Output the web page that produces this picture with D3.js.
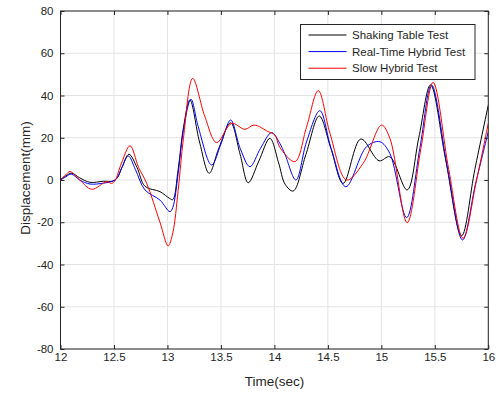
<!DOCTYPE html>
<html>
<head>
<meta charset="utf-8">
<script src="https://cdn.jsdelivr.net/npm/d3@7"></script>
<style>
  html, body { margin: 0; padding: 0; background: #fff; }
  svg { display: block; font-family: "Liberation Sans", Arial, Helvetica, sans-serif; }
</style>
</head>
<body>
<svg id="chart" width="498" height="393"></svg>
<script>
// ---- data ----
const xTicks = [12, 12.5, 13, 13.5, 14, 14.5, 15, 15.5, 16];
const yTicks = [-80, -60, -40, -20, 0, 20, 40, 60, 80];
const xTickLabels = ["12", "12.5", "13", "13.5", "14", "14.5", "15", "15.5", "16"];
const yTickLabels = ["-80", "-60", "-40", "-20", "0", "20", "40", "60", "80"];
const seriesNames = ["Shaking Table Test", "Real-Time Hybrid Test", "Slow Hybrid Test"];
const seriesColors = ["#000000", "#0000ff", "#ff0000"];

const shakingT = [12.00, 12.05, 12.105, 12.18, 12.276, 12.40, 12.49, 12.53, 12.575, 12.64, 12.715, 12.79, 12.93, 13.02, 13.05, 13.10, 13.15, 13.21, 13.30, 13.39, 13.48, 13.59, 13.68, 13.755, 13.855, 13.958, 14.04, 14.10, 14.176, 14.294, 14.419, 14.528, 14.643, 14.808, 14.979, 15.079, 15.241, 15.35, 15.46, 15.60, 15.75, 15.874, 16.0];
const shakingV = [0.3, 2.0, 3.2, 1.0, -1.1, -0.6, -0.5, 1, 6, 12.2, 6, -3.0, -5.5, -8.7, -9.3, 5, 25, 37.9, 18, 3.2, 15, 27.1, 12, -1.3, 9, 19.7, 8, -2, -5.2, 12, 30.3, 15, -1.6, 19.4, 9.1, 11, -4.7, 20, 45, 10, -26.4, 5, 35.5];

const rthtT = [12.00, 12.05, 12.10, 12.18, 12.276, 12.40, 12.49, 12.53, 12.575, 12.634, 12.70, 12.79, 12.93, 13.023, 13.05, 13.10, 13.15, 13.22, 13.288, 13.413, 13.50, 13.591, 13.68, 13.771, 13.87, 13.974, 14.05, 14.10, 14.201, 14.30, 14.425, 14.53, 14.668, 14.862, 14.986, 15.079, 15.236, 15.36, 15.469, 15.62, 15.759, 15.88, 16.0];
const rthtV = [0, 1.5, 2.8, 0, -1.9, -1.5, -0.5, 1, 6, 11.4, 5, -4.7, -9.5, -15, -13, 3, 24, 38.2, 25.2, 7.1, 17, 28.4, 15, 6.3, 15, 22.4, 17.4, 12, 0, 18, 32.8, 15, -3.2, 15.8, 18.1, 12.6, -17.8, 15, 45, 5, -28.4, -2, 22.9];

const slowT = [12.00, 12.05, 12.089, 12.18, 12.292, 12.432, 12.479, 12.51, 12.57, 12.65, 12.73, 12.806, 12.93, 13.007, 13.05, 13.10, 13.15, 13.236, 13.35, 13.46, 13.60, 13.724, 13.811, 13.942, 14.005, 14.05, 14.192, 14.30, 14.41, 14.52, 14.675, 14.83, 15.002, 15.08, 15.241, 15.37, 15.484, 15.63, 15.764, 15.89, 16.0];
const slowV = [0, 2.5, 4, 0, -4.4, -0.8, -1.6, -0.3, 8, 16.2, 6, -1.6, -20, -31.2, -25, -5, 20, 48.1, 30, 17.7, 26.8, 24, 26, 22.9, 21.3, 15.5, 8.7, 25, 42.3, 22, 0, 7.9, 26, 19.7, -20.2, 15, 46.2, 5, -27.6, 0, 26.8];

const seriesT = [shakingT, rthtT, slowT];
const seriesV = [shakingV, rthtV, slowV];

// ---- layout ----
const L = 60.5, R = 488.3, T = 11, B = 349;
const axisColor = "#262626";
const gridColor = "#e3e3e3";

const svg = d3.select("#chart");
const x = d3.scaleLinear().domain([12, 16]).range([L, R]);
const y = d3.scaleLinear().domain([-80, 80]).range([B, T]);

// grid
const grid = svg.append("g");
grid.selectAll("line.gx").data(xTicks).join("line")
  .attr("x1", d => x(d)).attr("x2", d => x(d)).attr("y1", T).attr("y2", B)
  .attr("stroke", gridColor).attr("stroke-width", 1);
grid.selectAll("line.gy").data(yTicks).join("line")
  .attr("y1", d => y(d)).attr("y2", d => y(d)).attr("x1", L).attr("x2", R)
  .attr("stroke", gridColor).attr("stroke-width", 1);

// clip
svg.append("clipPath").attr("id", "clip").append("rect")
  .attr("x", L).attr("y", T).attr("width", R - L).attr("height", B - T);

// lines
const line = d3.line().curve(d3.curveCatmullRom.alpha(0.5));
const lines = svg.append("g").attr("clip-path", "url(#clip)");
seriesT.forEach((ts, i) => {
  const pts = ts.map((t, j) => [x(t), y(seriesV[i][j])]);
  lines.append("path")
    .attr("d", line(pts))
    .attr("fill", "none")
    .attr("stroke", seriesColors[i])
    .attr("stroke-width", 1);
});

// axes (MATLAB style: inward ticks on all sides)
const tickLen = 4;
const xAxisB = d3.axisBottom(x).tickValues(xTicks).tickSizeInner(-tickLen).tickSizeOuter(0).tickPadding(4)
  .tickFormat((d, i) => xTickLabels[i]);
const xAxisT = d3.axisTop(x).tickValues(xTicks).tickSizeInner(-tickLen).tickSizeOuter(0).tickFormat("");
const yAxisL = d3.axisLeft(y).tickValues(yTicks).tickSizeInner(-tickLen).tickSizeOuter(0).tickPadding(7)
  .tickFormat((d, i) => yTickLabels[i]);
const yAxisR = d3.axisRight(y).tickValues(yTicks).tickSizeInner(-tickLen).tickSizeOuter(0).tickFormat("");

function styleAxis(g) {
  g.select(".domain").remove();
  g.selectAll(".tick line").attr("stroke", axisColor);
  g.selectAll(".tick text").attr("fill", axisColor).style("font-size", "11.5px")
    .style("font-family", "'Liberation Sans', Arial, sans-serif");
}
svg.append("g").attr("transform", `translate(0,${B})`).call(xAxisB).call(styleAxis);
svg.append("g").attr("transform", `translate(0,${T})`).call(xAxisT).call(styleAxis);
svg.append("g").attr("transform", `translate(${L},0)`).call(yAxisL).call(styleAxis);
svg.append("g").attr("transform", `translate(${R},0)`).call(yAxisR).call(styleAxis);

// box
svg.append("rect").attr("x", L).attr("y", T).attr("width", R - L).attr("height", B - T)
  .attr("fill", "none").attr("stroke", axisColor).attr("stroke-width", 1);

// axis labels
svg.append("text").attr("x", (L + R) / 2).attr("y", 386).attr("text-anchor", "middle")
  .attr("fill", axisColor).style("font-size", "13.5px").text("Time(sec)");
svg.append("text").attr("transform", `translate(30,178) rotate(-90)`)
  .attr("text-anchor", "middle").attr("fill", axisColor).style("font-size", "13.5px")
  .text("Displacement(mm)");

// legend
const lg = svg.append("g");
lg.append("rect").attr("x", 300.5).attr("y", 24.5).attr("width", 174.5).attr("height", 55)
  .attr("fill", "#fff").attr("stroke", axisColor).attr("stroke-width", 1);
seriesNames.forEach((name, i) => {
  const yy = 35 + i * 16.6;
  lg.append("line").attr("x1", 308.5).attr("x2", 346.5).attr("y1", yy).attr("y2", yy)
    .attr("stroke", seriesColors[i]).attr("stroke-width", 1);
  lg.append("text").attr("x", 352).attr("y", yy + 4).attr("fill", axisColor)
    .style("font-size", "11.5px").text(name);
});
</script>
</body>
</html>
